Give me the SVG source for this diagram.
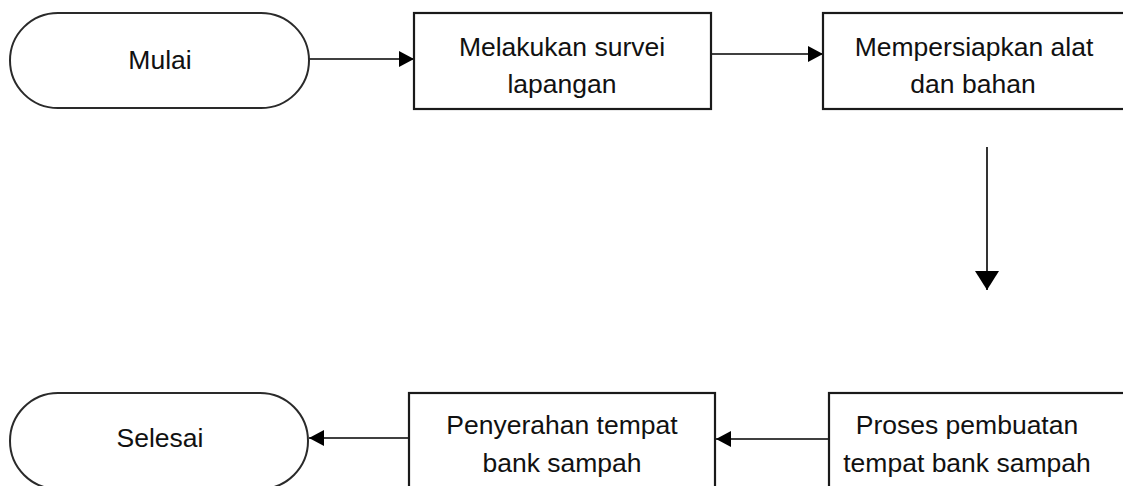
<svg xmlns="http://www.w3.org/2000/svg" width="1123" height="486" viewBox="0 0 1123 486">
<defs>
<style>
.shape{fill:#ffffff;stroke:#1a1a1a;stroke-width:2.2}
.term{fill:#ffffff;stroke:#2a2a2a;stroke-width:2}
.lbl{font-family:"Liberation Sans",Arial,sans-serif;font-size:26.5px;fill:#111;text-anchor:middle}
.conn{stroke:#000;stroke-width:1.6;fill:none}
</style>
<marker id="ah" markerUnits="userSpaceOnUse" markerWidth="16" markerHeight="16" viewBox="0 0 15 16" refX="15" refY="8" orient="auto">
<path d="M0,0 L15,8 L0,16 Z" fill="#000"/>
</marker>
<marker id="ahBig" markerUnits="userSpaceOnUse" markerWidth="20" markerHeight="24" viewBox="0 0 19 24" refX="19" refY="12" orient="auto">
<path d="M0,0 L19,12 L0,24 Z" fill="#000"/>
</marker>
</defs>
<rect width="1123" height="486" fill="#ffffff"/>
<g id="connectors">
<line class="conn" x1="309" y1="59" x2="414" y2="59" marker-end="url(#ah)"/>
<line class="conn" x1="711" y1="54" x2="823" y2="54" marker-end="url(#ah)"/>
<line class="conn" x1="987" y1="147" x2="987" y2="290" marker-end="url(#ahBig)"/>
<line class="conn" x1="829" y1="439" x2="716" y2="439" marker-end="url(#ah)"/>
<line class="conn" x1="409" y1="438" x2="309" y2="438" marker-end="url(#ah)"/>
</g>
<g id="mulai">
<rect class="term" x="10" y="13" width="299" height="95" rx="48" ry="47.5"/>
<text class="lbl" x="160" y="69">Mulai</text>
</g>
<g id="survei">
<rect class="shape" x="414" y="13" width="297" height="96"/>
<text class="lbl" x="562" y="56">Melakukan survei</text>
<text class="lbl" x="562" y="93">lapangan</text>
</g>
<g id="persiapan">
<rect class="shape" x="823" y="13" width="304" height="96"/>
<text class="lbl" x="974" y="56">Mempersiapkan alat</text>
<text class="lbl" x="973" y="93">dan bahan</text>
</g>
<g id="pembuatan">
<rect class="shape" x="829" y="393" width="300" height="100"/>
<text class="lbl" x="967" y="434">Proses pembuatan</text>
<text class="lbl" x="967" y="472">tempat bank sampah</text>
</g>
<g id="penyerahan">
<rect class="shape" x="409" y="393" width="306" height="100"/>
<text class="lbl" x="562" y="434">Penyerahan tempat</text>
<text class="lbl" x="562" y="472">bank sampah</text>
</g>
<g id="selesai">
<rect class="term" x="10" y="393" width="298" height="96" rx="48" ry="48"/>
<text class="lbl" x="160" y="447">Selesai</text>
</g>
</svg>
